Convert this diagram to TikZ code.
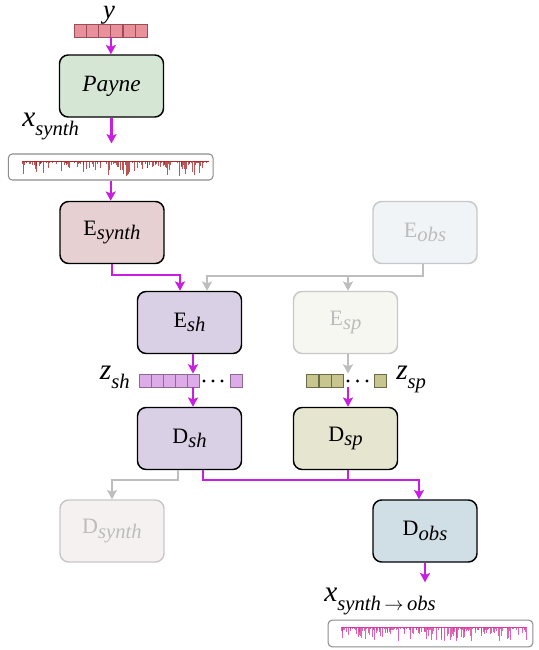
\documentclass[tikz,border=0pt]{standalone}
\usepackage{amsmath}
\usepackage{fontspec}
\setmainfont{Liberation Serif}
\usetikzlibrary{arrows.meta,calc,positioning}

\definecolor{flowpurple}{RGB}{200,30,225}
\definecolor{flowgray}{RGB}{190,190,190}
\definecolor{fadeline}{RGB}{200,200,200}
\definecolor{fadetext}{RGB}{188,188,188}
\definecolor{paynefill}{RGB}{213,231,212}
\definecolor{synthfill}{RGB}{231,208,209}
\definecolor{obsfill}{RGB}{241,244,247}
\definecolor{shfill}{RGB}{218,208,230}
\definecolor{spfill}{RGB}{247,247,242}
\definecolor{dspfill}{RGB}{230,230,208}
\definecolor{dsynthfill}{RGB}{246,241,241}
\definecolor{dobsfill}{RGB}{208,222,230}
\definecolor{ycell}{RGB}{232,145,155}
\definecolor{ycellline}{RGB}{155,78,88}
\definecolor{shcell}{RGB}{221,171,232}
\definecolor{shcellline}{RGB}{140,106,147}
\definecolor{spcell}{RGB}{201,197,142}
\definecolor{spcellline}{RGB}{107,106,72}
\definecolor{specred}{RGB}{165,30,30}
\definecolor{specpink}{RGB}{214,51,154}

% box and vector labels
\newcommand{\boxlbl}[2]{#1\raisebox{-3.5pt}{\fontsize{15.5}{17}\selectfont\itshape #2}}
\newcommand{\veclbl}[2]{{\fontsize{22}{24}\selectfont\itshape #1}\raisebox{-7pt}{\fontsize{15.5}{17}\selectfont\itshape #2}}

\tikzset{
  block/.style={draw=black, line width=1.1pt, rounded corners=6.5pt,
    minimum width=78pt, minimum height=46.5pt, inner sep=0pt,
    font=\fontsize{16.5}{19}\selectfont},
  fadedblock/.style={block, draw=fadeline, text=fadetext},
  flow/.style={draw=flowpurple, line width=1.8pt, -{Stealth[length=7pt,width=7.5pt,inset=1.5pt]}},
  fadedflow/.style={flow, draw=flowgray},
  cell/.style={draw, line width=0.6pt, minimum width=9pt, minimum height=9.75pt, inner sep=0pt},
  specbox/.style={draw=black!45, line width=0.8pt, rounded corners=3pt, inner sep=0pt},
  specline/.style={line width=0.3pt, opacity=0.75}
}

\begin{document}
\begin{tikzpicture}[x=0.75pt, y=-0.75pt]
  \useasboundingbox (0,0) rectangle (539,650);

  % Define blocks
  \node[block, fill=paynefill] (payne) at (111.5,86) {\fontsize{17.5}{20}\selectfont\textit{Payne}};
  \node[block, fill=synthfill] (esynth) at (112,232.5) {\boxlbl{E}{synth}};
  \node[fadedblock, fill=obsfill] (eobs) at (425,232.5) {\boxlbl{E}{obs}};
  \node[block, fill=shfill] (esh) at (189.5,322.5) {\boxlbl{E}{sh}};
  \node[fadedblock, fill=spfill] (esp) at (345.5,322.5) {\boxlbl{E}{sp}};
  \node[block, fill=shfill] (dsh) at (189.5,438.5) {\boxlbl{D}{sh}};
  \node[block, fill=dspfill] (dsp) at (345.5,438.5) {\boxlbl{D}{sp}};
  \node[fadedblock, fill=dsynthfill] (dsynth) at (112,531) {\boxlbl{D}{synth}};
  \node[block, fill=dobsfill] (dobs) at (425,531) {\boxlbl{D}{obs}};

  % Spectra
  \node[specbox, minimum width=153.5pt, minimum height=19.5pt] (specin) at (110.7,167) {};
  \node[specbox, minimum width=153.5pt, minimum height=20pt] (specout) at (430.5,633.5) {};
  \pgfmathsetseed{11}
  \draw[specline, draw=specred] (22,161) -- (209,161);
  \foreach \k in {0,...,230} {
    \pgfmathsetmacro{\sx}{22+0.81*\k}
    \pgfmathsetmacro{\sl}{0.6+15*rnd^4}
    \draw[specline, draw=specred] (\sx,161) -- ++(0,\sl);
  }
  \draw[specline, draw=specpink] (341,627) -- (527,627);
  \foreach \k in {0,...,250} {
    \pgfmathsetmacro{\sx}{341+0.74*\k}
    \pgfmathsetmacro{\sl}{1+13*rnd^3}
    \draw[specline, draw=specpink] (\sx,627) -- ++(0,\sl);
  }

  % Latent vectors
  \foreach \i in {1,...,6}
    \node[cell, fill=ycell, draw=ycellline] (y\i) at ({74+12.2*(\i-0.5)},30.5) {};
  \foreach \i in {1,...,5}
    \node[cell, fill=shcell, draw=shcellline] (zsh\i) at ({139+12*(\i-0.5)},380.5) {};
  \node[cell, fill=shcell, draw=shcellline] (zsh6) at (236,380.5) {};
  \foreach \i in {1,...,3}
    \node[cell, fill=spcell, draw=spcellline] (zsp\i) at ({306.5+12.5*(\i-0.5)},380.5) {};
  \node[cell, fill=spcell, draw=spcellline] (zsp4) at (380,380.5) {};
  \foreach \d in {204,213,222}
    \fill (\d,381) circle (1.3pt);
  \foreach \d in {348,357.5,367}
    \fill (\d,381) circle (1.3pt);

  % Labels
  \node[anchor=base, inner sep=0pt, font=\fontsize{20}{22}\selectfont\itshape] (ylbl) at (109,18.5) {y};
  \node[anchor=base west, inner sep=0pt] (xinlbl) at (22,126) {\veclbl{x}{synth}};
  \node[anchor=base east, inner sep=0pt] (zshlbl) at (130,379) {\veclbl{z}{sh}};
  \node[anchor=base west, inner sep=0pt] (zsplbl) at (396,379) {\veclbl{z}{sp}};
  \node[anchor=base west, inner sep=0pt] (xoutlbl) at (324,601) {\veclbl{x}{synth\,$\rightarrow$\,obs}};

  % Connect synthetic path
  \draw[flow] (y3.south east) -- (y3.south east |- payne.north);
  \draw[flow, shorten >=7.5pt] (payne.south) -- (payne.south |- specin.north);
  \draw[flow] (specin.south) -- (specin.south |- esynth.north);
  \draw[flow] (esynth.south) -- ++(0,11) -| ($(esh.north)+(-9.5,0)$);

  % Observed path (faded)
  \draw[fadedflow] ($(eobs.south)+(-2,0)$) -- ++(0,12) coordinate (eturn) -| ($(esh.north)+(17.5,0)$);
  \coordinate (spin) at ($(esp.north)+(2.5,0)$);
  \draw[fadedflow] (spin |- eturn) -- (spin);
  \draw[fadedflow] (esp.south -| spin) -- (spin |- zsp1.north);

  % Latents to decoders
  \draw[flow] (esh.south -| zsh5) -- (zsh5.north);
  \draw[flow] (zsh5.south) -- (zsh5.south |- dsh.north);
  \draw[flow] (spin |- zsp1.south) -- (spin |- dsp.north);

  % Decoder outputs
  \draw[fadedflow] ($(dsh.south)+(-11.5,0)$) -- ++(0,10) -| (dsynth.north);
  \draw[flow] ($(dsh.south)+(13.5,0)$) -- ++(0,10) -| ($(dobs.north)+(-6,0)$);
  \draw[flow, -] ($(dsp.south)+(2.5,0)$) -- ++(0,10);
  \draw[flow, shorten >=28pt] (dobs.south) -- (dobs.south |- specout.north);
\end{tikzpicture}
\end{document}
